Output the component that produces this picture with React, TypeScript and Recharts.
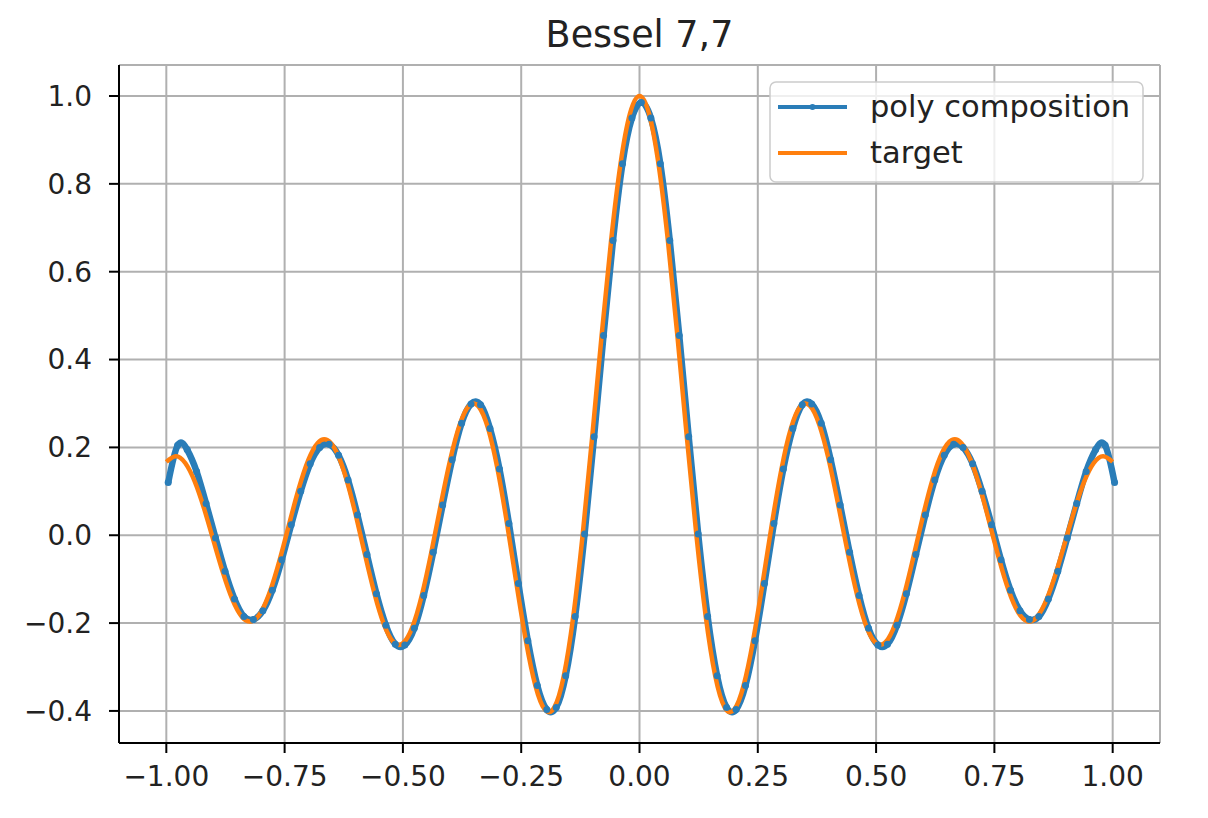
import React from 'react';
import { LineChart, Line, XAxis, YAxis, CartesianGrid } from 'recharts';

const BLUE = '#2a7db8';
const ORANGE = '#ff7f0e';
const FONT = 'DejaVu Sans';

const titleText = 'Bessel 7,7';
const seriesNames = ['poly composition', 'target'];

const xTicks = [-1, -0.75, -0.5, -0.25, 0, 0.25, 0.5, 0.75, 1];
const yTicks = [-0.4, -0.2, 0, 0.2, 0.4, 0.6, 0.8, 1.0];

// sample positions of the target curve
const targetX = [
  -1.00, -0.98, -0.96, -0.94, -0.92, -0.90, -0.88, -0.86, -0.84, -0.82,
  -0.80, -0.78, -0.76, -0.74, -0.72, -0.70, -0.68, -0.66, -0.64, -0.62,
  -0.60, -0.58, -0.56, -0.54, -0.52, -0.50, -0.48, -0.46, -0.44, -0.42,
  -0.40, -0.38, -0.36, -0.34, -0.32, -0.30, -0.28, -0.26, -0.24, -0.22,
  -0.20, -0.18, -0.16, -0.14, -0.12, -0.10, -0.08, -0.06, -0.04, -0.02,
  0.00,
  0.02, 0.04, 0.06, 0.08, 0.10, 0.12, 0.14, 0.16, 0.18, 0.20,
  0.22, 0.24, 0.26, 0.28, 0.30, 0.32, 0.34, 0.36, 0.38, 0.40,
  0.42, 0.44, 0.46, 0.48, 0.50, 0.52, 0.54, 0.56, 0.58, 0.60,
  0.62, 0.64, 0.66, 0.68, 0.70, 0.72, 0.74, 0.76, 0.78, 0.80,
  0.82, 0.84, 0.86, 0.88, 0.90, 0.92, 0.94, 0.96, 0.98, 1.00,
];

const targetY = [
  0.1670, 0.1801, 0.1646, 0.1226, 0.0601, -0.0134, -0.0863, -0.1472, -0.1860, -0.1960,
  -0.1749, -0.1253, -0.0544, 0.0271, 0.1065, 0.1711, 0.2102, 0.2168, 0.1888, 0.1296,
  0.0477, -0.0446, -0.1330, -0.2033, -0.2435, -0.2459, -0.2091, -0.1368, -0.0390, 0.0693,
  0.1717, 0.2516, 0.2951, 0.2931, 0.2433, 0.1506, 0.0270, -0.1103, -0.2404, -0.3423,
  -0.3971, -0.3918, -0.3202, -0.1850, 0.0025, 0.2239, 0.4554, 0.6711, 0.8463, 0.9604,
  1.0000,
  0.9604, 0.8463, 0.6711, 0.4554, 0.2239, 0.0025, -0.1850, -0.3202, -0.3918, -0.3971,
  -0.3423, -0.2404, -0.1103, 0.0270, 0.1506, 0.2433, 0.2931, 0.2951, 0.2516, 0.1717,
  0.0693, -0.0390, -0.1368, -0.2091, -0.2459, -0.2435, -0.2033, -0.1330, -0.0446, 0.0477,
  0.1296, 0.1888, 0.2168, 0.2102, 0.1711, 0.1065, 0.0271, -0.0544, -0.1253, -0.1749,
  -0.1960, -0.1860, -0.1472, -0.0863, -0.0134, 0.0601, 0.1226, 0.1646, 0.1801, 0.1670,
];

// sample positions of the poly composition curve (sits slightly right of target)
const polyX = [
  -0.996, -0.976, -0.956, -0.936, -0.916, -0.896, -0.876, -0.856, -0.836, -0.816,
  -0.796, -0.776, -0.756, -0.736, -0.716, -0.696, -0.676, -0.656, -0.636, -0.616,
  -0.596, -0.576, -0.556, -0.536, -0.516, -0.496, -0.476, -0.456, -0.436, -0.416,
  -0.396, -0.376, -0.356, -0.336, -0.316, -0.296, -0.276, -0.256, -0.236, -0.216,
  -0.196, -0.176, -0.156, -0.136, -0.116, -0.096, -0.076, -0.056, -0.036, -0.016,
  0.004,
  0.024, 0.044, 0.064, 0.084, 0.104, 0.124, 0.144, 0.164, 0.184, 0.204,
  0.224, 0.244, 0.264, 0.284, 0.304, 0.324, 0.344, 0.364, 0.384, 0.404,
  0.424, 0.444, 0.464, 0.484, 0.504, 0.524, 0.544, 0.564, 0.584, 0.604,
  0.624, 0.644, 0.664, 0.684, 0.704, 0.724, 0.744, 0.764, 0.784, 0.804,
  0.824, 0.844, 0.864, 0.884, 0.904, 0.924, 0.944, 0.964, 0.984, 1.004,
];

const polyY = [
  0.120, 0.205, 0.195, 0.145, 0.072, -0.006, -0.082, -0.145, -0.185, -0.192,
  -0.172, -0.125, -0.056, 0.024, 0.100, 0.163, 0.200, 0.207, 0.182, 0.126,
  0.046, -0.044, -0.133, -0.205, -0.248, -0.250, -0.212, -0.137, -0.039, 0.069,
  0.172, 0.255, 0.299, 0.297, 0.243, 0.151, 0.027, -0.110, -0.240, -0.342,
  -0.397, -0.392, -0.320, -0.185, 0.003, 0.224, 0.455, 0.671, 0.846, 0.950,
  0.985,
  0.950, 0.846, 0.671, 0.455, 0.224, 0.003, -0.185, -0.320, -0.392, -0.397,
  -0.342, -0.240, -0.110, 0.027, 0.151, 0.243, 0.297, 0.299, 0.255, 0.172,
  0.069, -0.039, -0.137, -0.212, -0.250, -0.248, -0.205, -0.133, -0.044, 0.046,
  0.126, 0.182, 0.207, 0.200, 0.163, 0.100, 0.024, -0.056, -0.125, -0.172,
  -0.192, -0.185, -0.145, -0.082, -0.006, 0.072, 0.145, 0.195, 0.205, 0.120,
];

const targetData = targetX.map((x, i) => ({ x, y: targetY[i] }));
const polyData = polyX.map((x, i) => ({ x, y: polyY[i] }));

const fmt = (d: number) => (v: number) => {
  const s = Math.abs(v).toFixed(d);
  return v < -1e-9 ? '\u2212' + s : s;
};

const W = 1208;
const H = 818;

export default function App() {
  const tickStyle = { fill: '#222', fontSize: 28, fontFamily: FONT };
  const axisLine = { stroke: '#000', strokeWidth: 2 };
  return (
    <div style={{ position: 'absolute', left: 0, top: 0, width: W, height: H, background: '#fff' }}>
      <LineChart width={W} height={H} margin={{ top: 65, right: 48, bottom: 0, left: 0 }}>
        <CartesianGrid stroke="#b0b0b0" strokeWidth={2} />
        <XAxis
          dataKey="x"
          type="number"
          domain={[-1.1, 1.1]}
          ticks={xTicks}
          interval={0}
          allowDataOverflow
          tickFormatter={fmt(2)}
          height={75}
          tickSize={10}
          tickMargin={13}
          axisLine={axisLine}
          tickLine={axisLine}
          tick={tickStyle}
        />
        <XAxis
          xAxisId="top"
          orientation="top"
          dataKey="x"
          type="number"
          domain={[-1.1, 1.1]}
          height={0}
          tick={false}
          tickLine={false}
          axisLine={axisLine}
        />
        <YAxis
          type="number"
          domain={[-0.473, 1.0706]}
          ticks={yTicks}
          interval={0}
          allowDataOverflow
          tickFormatter={fmt(1)}
          width={119}
          tickSize={10}
          tickMargin={17}
          axisLine={axisLine}
          tickLine={axisLine}
          tick={tickStyle}
        />
        <YAxis
          yAxisId="right"
          orientation="right"
          type="number"
          domain={[-0.473, 1.0706]}
          width={0}
          tick={false}
          tickLine={false}
          axisLine={axisLine}
        />
        <Line
          data={polyData}
          dataKey="y"
          name={seriesNames[0]}
          type="natural"
          stroke={BLUE}
          strokeWidth={6.5}
          dot={{ r: 3.5, fill: BLUE, stroke: 'none' }}
          activeDot={false}
          isAnimationActive={false}
        />
        <Line
          data={targetData}
          dataKey="y"
          name={seriesNames[1]}
          type="natural"
          stroke={ORANGE}
          strokeWidth={4.5}
          dot={false}
          activeDot={false}
          isAnimationActive={false}
        />
      </LineChart>
      <svg
        width={W}
        height={H}
        style={{ position: 'absolute', left: 0, top: 0, pointerEvents: 'none' }}
        fontFamily={FONT}
      >
        <text x={639.5} y={47} textAnchor="middle" fontSize={36.5} fill="#222">
          {titleText}
        </text>
        <g transform="translate(770,82)">
          <rect x={0} y={0} width={373} height={100} rx={6} fill="rgba(255,255,255,0.8)" stroke="#cccccc" strokeWidth={1.5} />
          <line x1={8} x2={77} y1={25} y2={25} stroke={BLUE} strokeWidth={4} />
          <circle cx={42.5} cy={25} r={3} fill={BLUE} />
          <text x={100} y={35} fontSize={30.5} fill="#222">{seriesNames[0]}</text>
          <line x1={8} x2={77} y1={71} y2={71} stroke={ORANGE} strokeWidth={4} />
          <text x={100} y={81} fontSize={30.5} fill="#222">{seriesNames[1]}</text>
        </g>
      </svg>
    </div>
  );
}
